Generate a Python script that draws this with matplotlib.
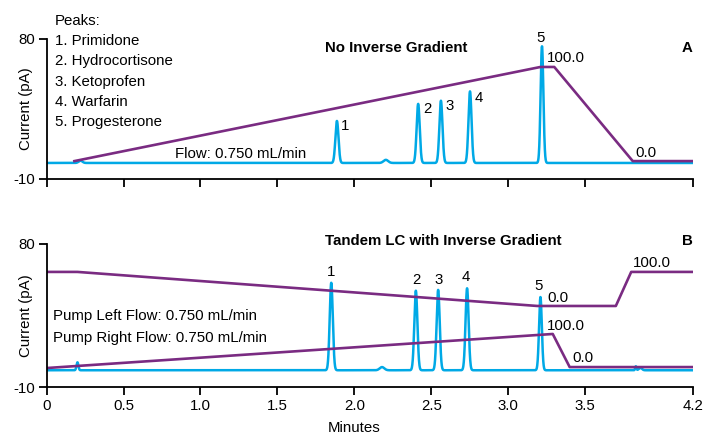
import numpy as np
import matplotlib
matplotlib.use('Agg')
from matplotlib import pyplot as plt

plt.rcParams['font.family'] = ['Liberation Sans', 'DejaVu Sans']
fs = 10.8
plt.rcParams['font.size'] = fs

cyan = '#00a9e6'
purple = '#7a2b82'

# peaks (time in min, height in pA)
top_peak_t = [0.22, 1.887, 2.205, 2.415, 2.563, 2.752, 3.22]
top_peak_h = [1.5, 27.0, 2.0, 38.0, 40.0, 46.0, 75.0]
top_peak_w = [0.012, 0.01, 0.015, 0.01, 0.01, 0.01, 0.009]
top_base = 0.3

bot_peak_t = [0.2, 1.85, 2.18, 2.40, 2.545, 2.733, 3.21, 3.83, 3.86]
bot_peak_h = [5.0, 55.0, 2.0, 50.0, 50.5, 51.5, 46.0, 2.5, 1.5]
bot_peak_w = [0.006, 0.01, 0.015, 0.01, 0.01, 0.01, 0.009, 0.004, 0.01]
bot_base = 0.6

# gradient profiles
grad_t = [0.18, 3.21, 3.30, 3.81, 4.2]
grad_v = [1.5, 62.0, 62.0, 1.5, 1.5]

left_t = [0, 0.2, 3.19, 3.70, 3.80, 4.2]
left_v = [62.4, 62.4, 41.0, 41.0, 62.4, 62.4]
right_t = [0, 3.29, 3.40, 4.2]
right_v = [2.0, 23.4, 2.6, 2.6]

top_labels = ['1', '2', '3', '4', '5']
top_label_xy = [(1.94, 24.1), (2.473, 35), (2.62, 37), (2.81, 42), (3.21, 80.6)]
bot_label_xy = [(1.849, 62.4), (2.401, 57.3), (2.55, 57.3), (2.726, 59.2), (3.20, 53.6)]

peak_names = ['1. Primidone', '2. Hydrocortisone', '3. Ketoprofen',
              '4. Warfarin', '5. Progesterone']

xticks = [0, 0.5, 1.0, 1.5, 2.0, 2.5, 3.0, 3.5, 4.2]
xticklabels = ['0', '0.5', '1.0', '1.5', '2.0', '2.5', '3.0', '3.5', '4.2']


def trace(t, base, pt, ph, pw):
    y = np.full_like(t, base)
    for c, h, w in zip(pt, ph, pw):
        y += h * np.exp(-0.5 * ((t - c) / w) ** 2)
    return y


t = np.linspace(0, 4.2, 6000)

fig = plt.figure(figsize=(7.04, 4.34), dpi=100)
ax1 = fig.add_axes([0.0663, 0.5876, 0.9177, 0.3226])
ax2 = fig.add_axes([0.0663, 0.108, 0.9177, 0.330])

for ax in (ax1, ax2):
    ax.set_xlim(0, 4.2)
    ax.set_ylim(-10, 80)
    ax.set_yticks([-10, 80])
    ax.set_yticklabels(['-10', '80'])
    ax.set_xticks(xticks)
    ax.spines['top'].set_visible(False)
    ax.spines['right'].set_visible(False)
    ax.spines['left'].set_linewidth(1.3)
    ax.spines['bottom'].set_linewidth(1.3)
    ax.tick_params(direction='out', length=5.5, width=1.3, labelsize=fs, pad=3)
    ax.set_ylabel('Current (pA)', fontsize=fs)
    ax.yaxis.set_label_coords(-0.021, 0.5)

ax1.set_xticklabels([])
ax2.set_xticklabels(xticklabels)
ax2.set_xlabel('Minutes', fontsize=fs)
ax2.xaxis.set_label_coords(0.476, -0.236)

# panel A
ax1.plot(t, trace(t, top_base, top_peak_t, top_peak_h, top_peak_w), color=cyan, lw=1.8)
ax1.plot(grad_t, grad_v, color=purple, lw=1.9)
for lab, (x, y) in zip(top_labels, top_label_xy):
    ax1.text(x, y, lab, ha='center', va='center')
ax1.text(3.25, 67.8, '100.0', ha='left', va='center')
ax1.text(3.825, 6.7, '0.0', ha='left', va='center')
ax1.text(1.81, 74.2, 'No Inverse Gradient', ha='left', va='center', fontweight='bold')
ax1.text(4.2, 74.2, 'A', ha='right', va='center', fontweight='bold')
ax1.text(0.835, 6.1, 'Flow: 0.750 mL/min', ha='left', va='center')
ax1.text(0.054, 91.6, 'Peaks:', ha='left', va='center', clip_on=False)
for i, name in enumerate(peak_names):
    ax1.text(0.054, 78.7 - i * 13.05, name, ha='left', va='center')

# panel B
ax2.plot(t, trace(t, bot_base, bot_peak_t, bot_peak_h, bot_peak_w), color=cyan, lw=1.8)
ax2.plot(left_t, left_v, color=purple, lw=1.9)
ax2.plot(right_t, right_v, color=purple, lw=1.9)
for lab, (x, y) in zip(top_labels, bot_label_xy):
    ax2.text(x, y, lab, ha='center', va='center')
ax2.text(3.253, 46, '0.0', ha='left', va='center')
ax2.text(3.253, 28.4, '100.0', ha='left', va='center')
ax2.text(3.42, 8.3, '0.0', ha='left', va='center')
ax2.text(3.81, 68, '100.0', ha='left', va='center')
ax2.text(1.81, 81.9, 'Tandem LC with Inverse Gradient', ha='left', va='center',
         fontweight='bold', clip_on=False)
ax2.text(4.2, 81.9, 'B', ha='right', va='center', fontweight='bold', clip_on=False)
ax2.text(0.04, 34.7, 'Pump Left Flow: 0.750 mL/min', ha='left', va='center')
ax2.text(0.04, 20.8, 'Pump Right Flow: 0.750 mL/min', ha='left', va='center')

fig.savefig('out.png', dpi=100)
